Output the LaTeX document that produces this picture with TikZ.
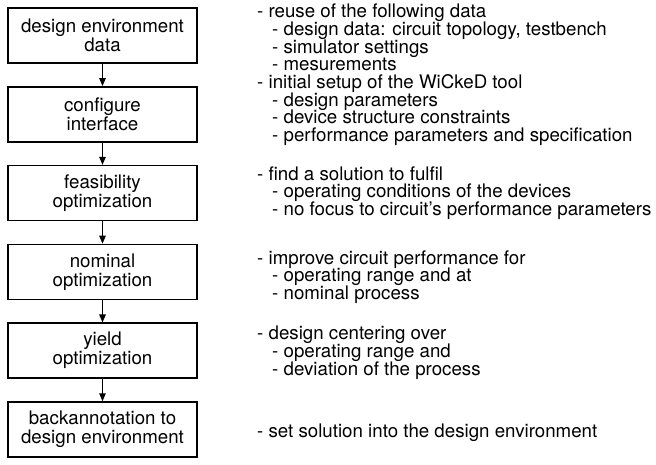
\documentclass[tikz,border=0pt]{standalone}
\usepackage{fontspec}
\setmainfont{TeX Gyre Heros}
\usetikzlibrary{arrows.meta}
\begin{document}
\begin{tikzpicture}[x=1pt,y=-1pt,
  stepbox/.style={draw, line width=1.5pt, minimum width=189pt, minimum height=55pt,
    align=center, inner sep=0pt, font=\fontsize{18.7}{19}\selectfont},
  note/.style={anchor=west, align=left, inner sep=0pt, font=\fontsize{18.7}{17.8}\selectfont},
  flow/.style={line width=1.2pt, -{Triangle[length=8pt,width=6.5pt]}}]
\useasboundingbox (0,0) rectangle (656,464);

% flow steps
\node[stepbox] (s1) at (102.5,35.5)  {design environment\\data};
\node[stepbox] (s2) at (102.5,114.3) {configure\\interface};
\node[stepbox] (s3) at (102.5,193.1) {feasibility\\optimization};
\node[stepbox] (s4) at (102.5,271.9) {nominal\\optimization};
\node[stepbox] (s5) at (102.5,350.7) {yield\\optimization};
\node[stepbox] (s6) at (102.5,429.5) {backannotation to\\design environment};

\foreach \a/\b in {s1/s2,s2/s3,s3/s4,s4/s5,s5/s6}
  \draw[flow] (\a.south) -- (\b.north);

% descriptions of the steps
\newcommand{\sub}{\\\hspace*{15pt}- }
\node[note] (n1) at (257,37.5) {- reuse of the following data\sub design data: circuit topology, testbench\sub simulator settings\sub mesurements};
\node[note] (n2) at (257,110) {- initial setup of the WiCkeD tool\sub design parameters\sub device structure constraints\sub performance parameters and specification};
\node[note] (n3) at (257,193) {- find a solution to fulfil\sub operating conditions of the devices\sub no focus to circuit’s performance parameters};
\node[note] (n4) at (257,277) {- improve circuit performance for\sub operating range and at\sub nominal process};
\node[note] (n5) at (257,353) {- design centering over\sub operating range and\sub deviation of the process};
\node[note] (n6) at (257,433) {- set solution into the design environment};
\end{tikzpicture}
\end{document}
